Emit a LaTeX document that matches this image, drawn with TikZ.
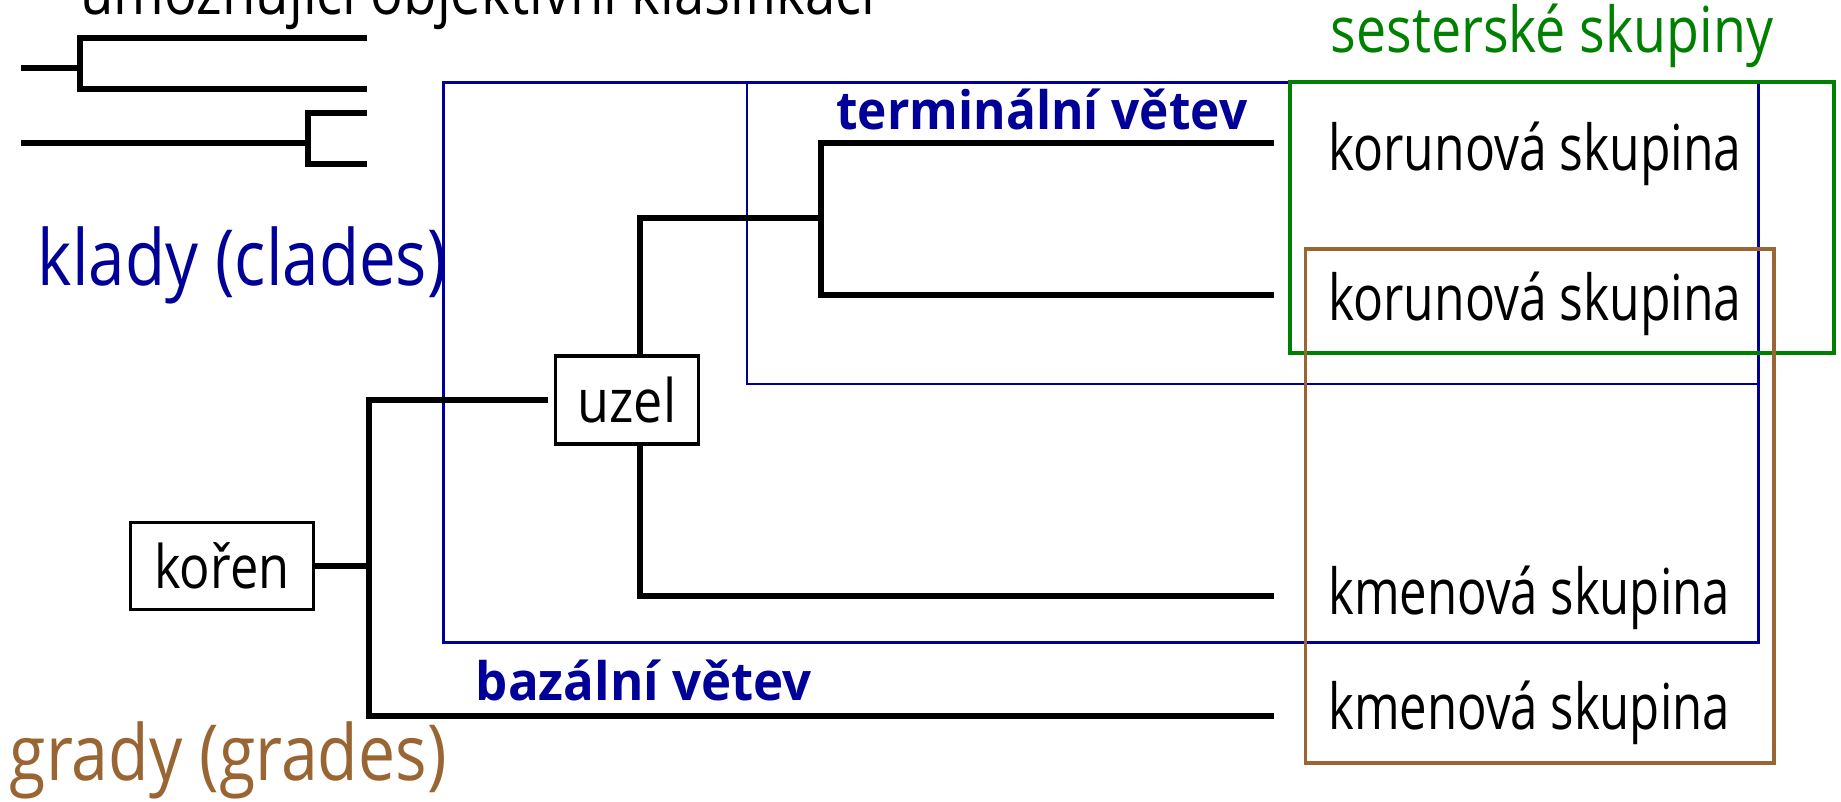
\documentclass[tikz,border=0pt]{standalone}
\usepackage{fontspec}
\setmainfont{Open Sans}
\usepackage{graphicx}
\definecolor{cblue}{RGB}{0,0,153}
\definecolor{cgreen}{RGB}{0,128,0}
\definecolor{cbrown}{RGB}{153,102,51}
\newlength\pu
\setlength\pu{0.5872pt}
\newcommand{\fitw}[2]{\resizebox{#1\pu}{\height}{#2}}
\begin{document}
\begin{tikzpicture}[x=0.5872pt,y=-0.5872pt,
  branch/.style={line width=3.05pt, line join=miter, black},
  boxnode/.style={draw, line width=1.8pt, inner sep=0pt, font=\fontsize{30pt}{36pt}\selectfont},
  lbl/.style={inner sep=0pt, font=\fontsize{31.7pt}{36pt}\selectfont},
  big/.style={inner sep=0pt, font=\fontsize{38.7pt}{44pt}\selectfont},
  bold/.style={inner sep=0pt, font=\fontsize{26.5pt}{30pt}\selectfont\bfseries, text=cblue},
  bluebox/.style={draw=cblue, line width=1.5pt},
  blueinner/.style={draw=cblue, line width=1.05pt},
  greenbox/.style={draw=cgreen, line width=2pt},
  brownbox/.style={draw=cbrown, line width=1.75pt}]
\useasboundingbox (0,0) rectangle (1568,683);
\clip (0,0) rectangle (1568,683);
\fill[white] (0,0) rectangle (1568,683);

% clipped top text
\node[lbl, anchor=base west] (top) at (68,12) {\fitw{677}{umožňující objektivní klasifikaci}};

% small trees top-left
\coordinate (a0) at (18,58);
\coordinate (a1) at (68,58);
\coordinate (a2) at (313,32);
\coordinate (a3) at (313,76);
\draw[branch] (a0) -- (a1);
\draw[branch] (a2) -| (a1) |- (a3);
\coordinate (b0) at (18,122);
\coordinate (b1) at (262,122);
\coordinate (b2) at (313,96);
\coordinate (b3) at (313,140);
\draw[branch] (b0) -- (b1);
\draw[branch] (b2) -| (b1) |- (b3);

% group boxes
\draw[bluebox] (378,70) rectangle (1498,547);
\draw[blueinner] (636,70) rectangle (1498,327);
\draw[greenbox] (1099,70) rectangle (1562,301);
\draw[brownbox] (1112,212) rectangle (1511,650);

% group labels
\node[big, text=cblue, anchor=base west] (klady) at (32,243) {\fitw{348}{klady (clades)}};
\node[big, text=cbrown, anchor=base west] (grady) at (8,665) {\fitw{372}{grady (grades)}};
\node[lbl, text=cgreen, anchor=base west] (sest) at (1133,45) {\fitw{377}{sesterské skupiny}};
\node[bold, anchor=base west] (term) at (712,110) {\fitw{350}{terminální větev}};
\node[bold, anchor=base west] (baz) at (405,597) {\fitw{286}{bazální větev}};

% tree nodes
\node[boxnode, minimum width=156\pu, minimum height=74\pu] (koren) at (189,482) {\fitw{115}{kořen}};
\node[boxnode, minimum width=122\pu, minimum height=75\pu] (uzel) at (534,340.5) {\fitw{84}{uzel}};

% tips
\node[lbl, anchor=base west] (k1) at (1131,145) {\fitw{352}{korunová skupina}};
\node[lbl, anchor=base west] (k2) at (1131,273) {\fitw{352}{korunová skupina}};
\node[lbl, anchor=base west] (m1) at (1131,523) {\fitw{342}{kmenová skupina}};
\node[lbl, anchor=base west] (m2) at (1131,621) {\fitw{342}{kmenová skupina}};

\coordinate (t1) at (1085,122);
\coordinate (t2) at (1085,251);
\coordinate (t3) at (1085,508);
\coordinate (t4) at (1085,610);
\coordinate (r) at (314,482);
\coordinate (n2) at (699,186);
\coordinate (ut) at (545,303);
\coordinate (ub) at (545,378);
\coordinate (uw) at (467,341);

\draw[branch] (koren.east) -- (r);
\draw[branch] (uw) -| (r) |- (t4);
\draw[branch] (ut) |- (n2);
\draw[branch] (t1) -| (n2) |- (t2);
\draw[branch] (ub) |- (t3);
\end{tikzpicture}
\end{document}
